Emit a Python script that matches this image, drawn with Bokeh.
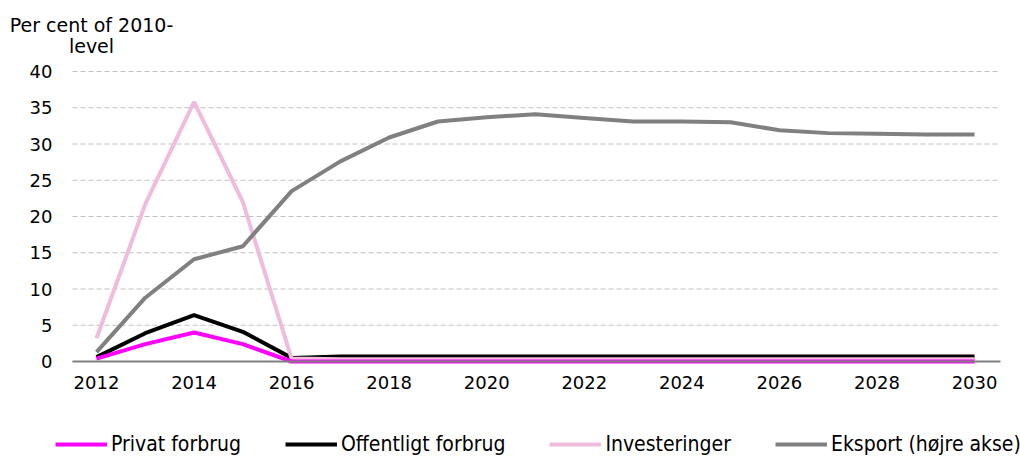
from bokeh.plotting import figure
from bokeh.models import Range1d, FixedTicker, Label, Legend, LegendItem
from bokeh.embed import file_html
from bokeh.resources import INLINE

years = list(range(2012, 2031))
privat = [0.4, 2.4, 4.0, 2.4, 0.0] + [0.0] * 14
offentligt = [0.6, 3.9, 6.4, 4.1, 0.5] + [0.7] * 14
investeringer = [3.2, 21.7, 35.8, 22.0, 0.4] + [0.3] * 14
eksport = [1.3, 8.8, 14.1, 15.9, 23.5, 27.6, 30.9, 33.1, 33.7, 34.1,
           33.6, 33.1, 33.1, 33.0, 31.9, 31.5, 31.4, 31.3, 31.3]
x_ticks = list(range(2012, 2031, 2))
y_ticks = list(range(0, 41, 5))
labels = ["Privat forbrug", "Offentligt forbrug", "Investeringer", "Eksport (højre akse)"]
colors = ["#FF00FF", "#000000", "#F0BCDC", "#808080"]

FONT = "DejaVu Sans"
W, H = 1020, 459
# plotting area extent (x in years); the canvas is wider to host title/legend
AREA_X0, AREA_X1 = 2011.508, 2030.53

p = figure(width=W, height=H, output_backend="svg", toolbar_location=None,
           x_range=Range1d(2010.032, 2030.942), y_range=Range1d(-13.517, 49.793),
           min_border=0)
p.outline_line_color = None
p.background_fill_color = "white"
p.xgrid.grid_line_color = None
p.ygrid.grid_line_color = None

# dashed horizontal gridlines across the plotting area
p.segment(x0=[AREA_X0] * len(y_ticks), x1=[AREA_X1] * len(y_ticks),
          y0=y_ticks, y1=y_ticks, line_color="#C0C0C0", line_width=1, line_dash="5 3")

xa, ya = p.xaxis[0], p.yaxis[0]
xa.fixed_location = 0
xa.bounds = (AREA_X0, AREA_X1)
ya.fixed_location = AREA_X0
xa.ticker = FixedTicker(ticks=x_ticks)
ya.ticker = FixedTicker(ticks=y_ticks)
for ax in (xa, ya):
    ax.major_tick_line_color = None
    ax.minor_tick_line_color = None
    ax.major_tick_out = 0
    ax.major_tick_in = 0
    ax.major_label_text_font = FONT
    ax.major_label_text_font_size = "18px"
    ax.major_label_text_color = "#000000"
xa.axis_line_color = "#808080"
xa.axis_line_width = 2
xa.major_label_standoff = 14
ya.axis_line_color = None
ya.major_label_standoff = 20

r_off = p.line(years, offentligt, line_color=colors[1], line_width=4)
r_inv = p.line(years, investeringer, line_color=colors[2], line_width=4)
r_priv = p.line(years, privat, line_color=colors[0], line_width=4)
r_eks = p.line(years, eksport, line_color=colors[3], line_width=4)

p.add_layout(Label(x=91, y=H - 24, x_units="screen", y_units="screen",
                   text="Per cent of 2010-", text_align="center", text_baseline="alphabetic",
                   text_font=FONT, text_font_size="19px", text_color="#000000"))
p.add_layout(Label(x=91, y=H - 45, x_units="screen", y_units="screen",
                   text="level", text_align="center", text_baseline="alphabetic",
                   text_font=FONT, text_font_size="19px", text_color="#000000"))

legend = Legend(items=[LegendItem(label=lab, renderers=[rr]) for lab, rr in
                       zip(labels, [r_priv, r_off, r_inv, r_eks])],
                location=(55, 3), orientation="horizontal",
                glyph_width=52, glyph_height=20, label_standoff=4, spacing=44,
                padding=0, margin=0, border_line_color=None, background_fill_alpha=0,
                label_text_font="DejaVu Sans Condensed", label_text_font_size="21px",
                label_text_color="#000000", label_height=20)
p.add_layout(legend, "center")

open("out.html", "w").write(file_html(p, INLINE))
